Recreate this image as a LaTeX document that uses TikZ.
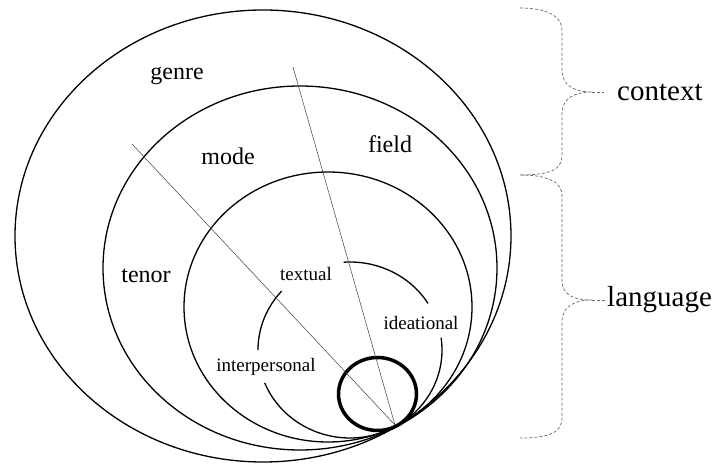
\documentclass[tikz,border=0pt]{standalone}
\usepackage{fontspec}
\setmainfont{Liberation Serif}

\begin{document}
\begin{tikzpicture}[
    x=1pt, y=1pt,
    every node/.style={inner sep=0pt},
    ring/.style={draw, line width=1.3pt}
]
\tikzset{
    spoke/.style={draw=black!75, line width=0.5pt},
    thickring/.style={draw, line width=3.5pt},
    outerlbl/.style={font=\fontsize{24}{28}\selectfont},
    innerlbl/.style={font=\fontsize{19}{22}\selectfont},
    sidelbl/.style={font=\fontsize{29}{34}\selectfont, anchor=west},
    bracket/.style={draw=black!60, dash pattern=on 3pt off 2pt, line width=0.7pt}
}
\useasboundingbox (0,0) rectangle (720,468);

% nested rings
\draw[ring] (263,232) ellipse [x radius=248pt, y radius=226pt];
\draw[ring] (300,200) ellipse [x radius=197pt, y radius=182pt];
\draw[ring] (328,161) ellipse [x radius=144pt, y radius=135pt];

% metafunction arcs
\draw[ring] (350,118) ++(94:92pt and 88pt) arc[start angle=94, end angle=32, x radius=92pt, y radius=88pt];
\draw[ring] (350,118) ++(8:92pt and 88pt) arc[start angle=8, end angle=-63, x radius=92pt, y radius=88pt];
\draw[ring] (350,118) ++(138:92pt and 88pt) arc[start angle=138, end angle=180, x radius=92pt, y radius=88pt];
\draw[ring] (350,118) ++(202:92pt and 88pt) arc[start angle=202, end angle=297, x radius=92pt, y radius=88pt];

\draw[thickring] (377.5,74) ellipse [x radius=39pt, y radius=36.5pt];

% dividing lines
\coordinate (apex) at (395,43);
\coordinate (modeEnd) at (132,324);
\coordinate (fieldEnd) at (293,401);
\draw[spoke] (modeEnd) -- (apex);
\draw[spoke] (fieldEnd) -- (apex);

% labels
\node[outerlbl] (genre) at (177,392) {genre};
\node[outerlbl] (mode) at (228,312) {mode};
\node[outerlbl] (field) at (390,324) {field};
\node[outerlbl] (tenor) at (146,192) {tenor};
\node[innerlbl] (textual) at (306,194) {textual};
\node[innerlbl] (ideational) at (421,145) {ideational};
\node[innerlbl] (interpersonal) at (266,101) {interpersonal};

% braces
\coordinate (ctxTip) at (592,376);
\coordinate (langTip) at (592,168);
\draw[bracket] (520,460) .. controls (550,460) and (562,450) .. (562,438) -- (562,398)
    .. controls (562,382) and (575,376) .. (ctxTip)
    .. controls (575,376) and (562,370) .. (562,354) -- (562,313)
    .. controls (562,298) and (550,293) .. (520,293);
\draw[bracket] (520,293) .. controls (550,293) and (562,285) .. (562,272) -- (562,188)
    .. controls (562,172) and (575,168) .. (langTip)
    .. controls (575,168) and (562,162) .. (562,146) -- (562,50)
    .. controls (562,36) and (550,30) .. (520,30);

\node[sidelbl] (context) at (617,376) {context};
\node[sidelbl] (language) at (607,168) {language};
\draw[bracket, shorten >=13pt] (ctxTip) -- (context.west);
\draw[bracket] (langTip) -- (language.west);
\end{tikzpicture}
\end{document}
